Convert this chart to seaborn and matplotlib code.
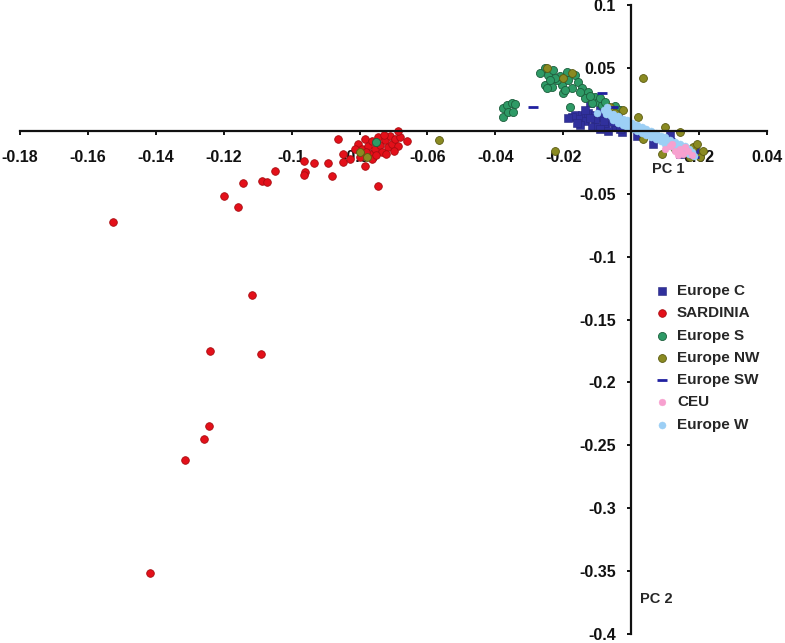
import matplotlib
matplotlib.use('Agg')
import matplotlib.pyplot as plt
from matplotlib.ticker import FuncFormatter
import seaborn as sns

# valores (PC1, PC2)
europe_c_x = [-0.0165, -0.0144, -0.0127, -0.0106, -0.0085, -0.0135, -0.0106, -0.0077, -0.0047,
              -0.0156, -0.0115, -0.0068, -0.0027, -0.0174, -0.0121, -0.0062, -0.0091, -0.0038,
              -0.0056, 0.0018, 0.0065, 0.0115, 0.0144, 0.0189, -0.0003, 0.0041, -0.0150,
              -0.0097, -0.0135, -0.0186, -0.0091, -0.0032, -0.0160, -0.0120, -0.0080]
europe_c_y = [0.0130, 0.0130, 0.0146, 0.0130, 0.0106, 0.0075, 0.0075, 0.0051, 0.0028,
              0.0091, 0.0035, -0.0004, -0.0012, 0.0114, 0.0224, 0.0154, 0.0169, 0.0091,
              0.0067, -0.0043, -0.0106, -0.0028, -0.0185, -0.0161, 0.0028, -0.0020, 0.0051,
              0.0028, 0.0169, 0.0106, 0.0012, 0.0012, 0.0060, 0.0100, 0.0080]

sardinia_x = [-0.1526, -0.1417, -0.1314, -0.1258, -0.1243, -0.1240, -0.1116, -0.1090,
              -0.1199, -0.1158, -0.1143, -0.1087, -0.1072, -0.1049, -0.0963, -0.0960,
              -0.0963, -0.0934, -0.0892, -0.0880, -0.0848, -0.0848,
              -0.0804, -0.0792, -0.0783, -0.0774, -0.0768, -0.0763, -0.0754, -0.0745,
              -0.0739, -0.0733, -0.0724, -0.0715, -0.0710, -0.0704, -0.0695, -0.0686,
              -0.0680, -0.0763, -0.0798, -0.0780, -0.0727, -0.0751, -0.0722, -0.0813,
              -0.0828, -0.0698, -0.0863, -0.0686, -0.0660, -0.0745, -0.0783]
sardinia_y = [-0.0728, -0.3516, -0.2618, -0.2453, -0.2350, -0.1752, -0.1303, -0.1776,
              -0.0516, -0.0602, -0.0413, -0.0398, -0.0406, -0.0319, -0.0240, -0.0327,
              -0.0350, -0.0256, -0.0256, -0.0358, -0.0185, -0.0248,
              -0.0106, -0.0146, -0.0067, -0.0122, -0.0185, -0.0083, -0.0146, -0.0051,
              -0.0114, -0.0169, -0.0075, -0.0130, -0.0043, -0.0106, -0.0067, -0.0122,
              -0.0051, -0.0224, -0.0209, -0.0169, -0.0035, -0.0193, -0.0185, -0.0146,
              -0.0224, -0.0161, -0.0067, -0.0004, -0.0083, -0.0437, -0.0280]

europe_s_x = [-0.0253, -0.0244, -0.0253, -0.0233, -0.0203, -0.0189, -0.0165, -0.0156, -0.0144,
              -0.0127, -0.0106, -0.0097, -0.0085, -0.0071, -0.0056, -0.0218, -0.0200, -0.0174,
              -0.0135, -0.0115, -0.0180, -0.0230, -0.0209, -0.0186, -0.0224, -0.0239, -0.0194,
              -0.0150, -0.0121, -0.0091, -0.0077, -0.0047, -0.0032, -0.0268, -0.0247,
              -0.0377, -0.0365, -0.0351, -0.0342, -0.0377, -0.0362, -0.0348, -0.0751]
europe_s_y = [0.0500, 0.0445, 0.0366, 0.0350, 0.0366, 0.0469, 0.0445, 0.0390, 0.0343,
              0.0311, 0.0272, 0.0232, 0.0209, 0.0185, 0.0169, 0.0406, 0.0303, 0.0343,
              0.0264, 0.0224, 0.0193, 0.0484, 0.0437, 0.0406, 0.0421, 0.0406, 0.0327,
              0.0311, 0.0280, 0.0264, 0.0232, 0.0201, 0.0169, 0.0461, 0.0343,
              0.0185, 0.0209, 0.0224, 0.0217, 0.0114, 0.0154, 0.0154, -0.0091]

europe_nw_x = [-0.0247, -0.0200, -0.0174, -0.0062, -0.0047, 0.0035, -0.0224, -0.0566, -0.0778,
               -0.0798, -0.0024, 0.0021, 0.0100, 0.0144, 0.0091, 0.0035, 0.0174, 0.0203,
               0.0183, 0.0130, 0.0085, 0.0194, 0.0212]
europe_nw_y = [0.0500, 0.0421, 0.0461, 0.0193, 0.0146, 0.0421, -0.0161, -0.0075, -0.0209,
               -0.0169, 0.0169, 0.0114, 0.0028, -0.0012, -0.0185, -0.0067, -0.0209, -0.0209,
               -0.0130, -0.0146, -0.0059, -0.0106, -0.0161]

europe_sw_x = [-0.0289, -0.0085, -0.0053, 0.0027, 0.0115, 0.0186]
europe_sw_y = [0.0193, 0.0303, 0.0193, -0.0028, -0.0067, -0.0209]

ceu_x = [0.0100, 0.0115, 0.0130, 0.0144, 0.0153, 0.0168, 0.0138, 0.0121, 0.0159, 0.0180]
ceu_y = [-0.0146, -0.0122, -0.0161, -0.0146, -0.0185, -0.0161, -0.0193, -0.0106, -0.0130, -0.0193]

europe_w_x = [-0.0081, -0.0067, -0.0053, -0.0039, -0.0025, -0.0011, 0.0003, 0.0017, 0.0031,
              0.0045, 0.0059, 0.0073, 0.0087, 0.0101, 0.0115, 0.0129, 0.0143, 0.0157, 0.0171,
              -0.0074, -0.0060, -0.0046, -0.0032, -0.0018, -0.0004, 0.0010, 0.0024, 0.0038,
              0.0052, 0.0066, 0.0080, 0.0094, 0.0108, 0.0122, 0.0136, 0.0150, 0.0164, 0.0178,
              -0.0053, -0.0039, -0.0025, -0.0011, 0.0003, 0.0017, 0.0031, 0.0045,
              0.0059, 0.0073, 0.0087, 0.0101, 0.0115, 0.0129, 0.0143, 0.0157, 0.0171, 0.0185,
              -0.0100, -0.0070]
europe_w_y = [0.0163, 0.0151, 0.0131, 0.0117, 0.0097, 0.0083, 0.0062, 0.0049, 0.0029,
              0.0016, -0.0004, -0.0018, -0.0038, -0.0052, -0.0071, -0.0088, -0.0106, -0.0121, -0.0140,
              0.0134, 0.0117, 0.0100, 0.0083, 0.0066, 0.0049, 0.0032, 0.0015, -0.0002,
              -0.0019, -0.0036, -0.0053, -0.0070, -0.0087, -0.0104, -0.0121, -0.0138, -0.0154, -0.0171,
              0.0085, 0.0066, 0.0051, 0.0033, 0.0017, -0.0001, -0.0017, -0.0034,
              -0.0050, -0.0068, -0.0084, -0.0101, -0.0118, -0.0135, -0.0152, -0.0168, -0.0186, -0.0203,
              0.0140, 0.0190]

x_ticks = [-0.18, -0.16, -0.14, -0.12, -0.1, -0.08, -0.06, -0.04, -0.02, 0, 0.02, 0.04]
y_ticks = [0.1, 0.05, 0, -0.05, -0.1, -0.15, -0.2, -0.25, -0.3, -0.35, -0.4]

sns.set_style('white')
plt.rcParams['font.family'] = ['Liberation Sans', 'DejaVu Sans']
plt.rcParams['font.weight'] = 'bold'

fig = plt.figure(figsize=(7.85, 6.43), dpi=100)
ax = fig.add_axes([0.0255, 0.014, 0.9516, 0.978])

sns.scatterplot(x=europe_c_x, y=europe_c_y, ax=ax, marker='s', s=30, color='#30309c',
                edgecolor='#26267e', linewidth=0.4, label='Europe C')
sns.scatterplot(x=sardinia_x, y=sardinia_y, ax=ax, marker='o', s=30, color='#e3101a',
                edgecolor='#a80c10', linewidth=0.6, label='SARDINIA')
sns.scatterplot(x=europe_s_x, y=europe_s_y, ax=ax, marker='o', s=34, color='#2e9a66',
                edgecolor='#1c5e3c', linewidth=0.6, label='Europe S')
sns.scatterplot(x=europe_nw_x, y=europe_nw_y, ax=ax, marker='o', s=32, color='#8a8a22',
                edgecolor='#5a5a10', linewidth=0.6, label='Europe NW')
sns.scatterplot(x=europe_sw_x, y=europe_sw_y, ax=ax, marker='_', s=50, color='#2020a0',
                linewidth=2, label='Europe SW')
# CEU fica por cima da faixa azul clara
sns.scatterplot(x=ceu_x, y=ceu_y, ax=ax, marker='o', s=24, color='#f7a0cf',
                edgecolor='#f7a0cf', linewidth=0.3, label='CEU', zorder=3)
sns.scatterplot(x=europe_w_x, y=europe_w_y, ax=ax, marker='o', s=26, color='#9ccff5',
                edgecolor='#9ccff5', linewidth=0.3, label='Europe W')

# eixos cruzando na origem, como no Excel
ax.set_xlim(-0.18, 0.04)
ax.set_ylim(-0.4, 0.1)
for lado in ['top', 'right']:
    ax.spines[lado].set_visible(False)
ax.spines['left'].set_position(('data', 0))
ax.spines['bottom'].set_position(('data', 0))
for lado in ['left', 'bottom']:
    ax.spines[lado].set_linewidth(1.6)
    ax.spines[lado].set_color('#111111')

ax.set_xticks(x_ticks)
ax.set_yticks(y_ticks)
fmt = FuncFormatter(lambda v, p: '' if abs(v) < 1e-9 else '%g' % v)
ax.xaxis.set_major_formatter(fmt)
ax.yaxis.set_major_formatter(fmt)
ax.tick_params(axis='x', direction='out', length=3, width=1.4, pad=10.5,
               labelsize=11.5, colors='#111111', bottom=True)
ax.tick_params(axis='y', direction='out', length=3, width=1.4, pad=8,
               labelsize=11.5, colors='#111111', left=True)
for t in ax.get_xticklabels() + ax.get_yticklabels():
    t.set_fontweight('bold')

ax.text(0.0062, -0.0304, 'PC 1', fontsize=10.5, fontweight='bold', va='center', ha='left')
ax.text(0.0027, -0.3724, 'PC 2', fontsize=10.5, fontweight='bold', va='center', ha='left')

leg = ax.legend(loc='upper left', bbox_to_anchor=(648 / 785, 1 - 278 / 643),
                bbox_transform=fig.transFigure, frameon=False, fontsize=11,
                handlelength=1.0, handletextpad=0.5, labelspacing=0.54,
                borderaxespad=0, borderpad=0.4)
for t in leg.get_texts():
    t.set_fontweight('bold')

fig.savefig('out.png', dpi=100)
